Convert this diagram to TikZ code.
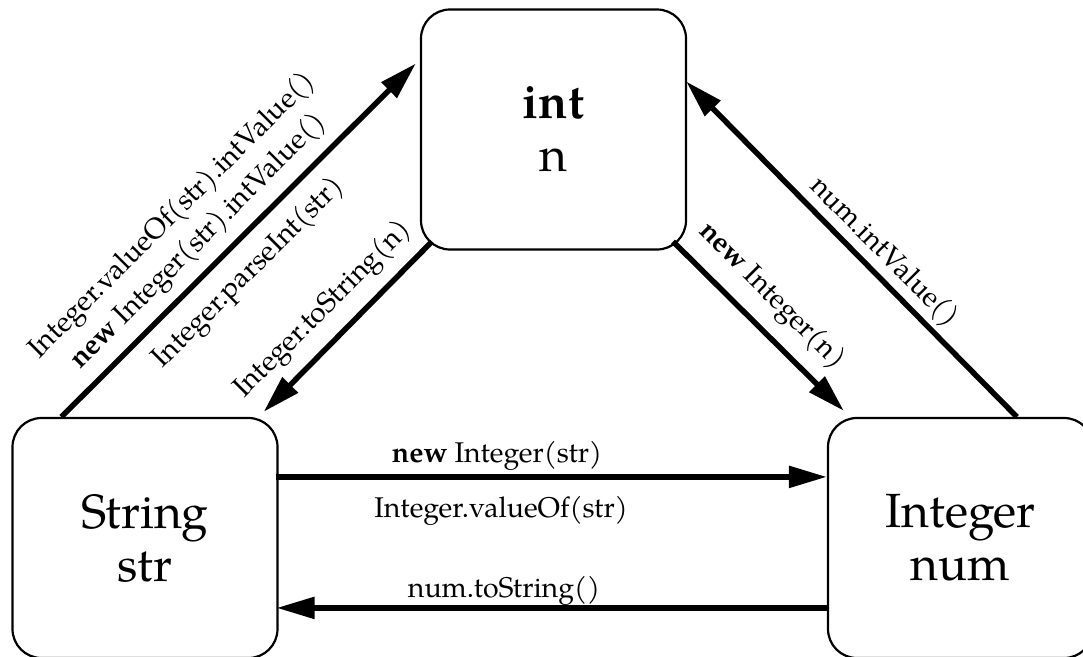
\documentclass[tikz,border=0pt]{standalone}
\usepackage{fontspec}
\setmainfont{TeX Gyre Pagella}
\usetikzlibrary{arrows.meta,calc}
\tikzset{
  box/.style={draw, line width=2.2pt, rounded corners=29pt, minimum width=265pt, minimum height=240pt, align=center, inner sep=0pt, font=\fontsize{48}{53}\selectfont},
  conn/.style={line width=5.5pt, -{Triangle[length=38pt,width=21pt]}},
  lab/.style={font=\fontsize{28.5}{37}\selectfont, inner sep=0pt, align=center},
}
\begin{document}
\begin{tikzpicture}[x=1pt,y=-1pt]
\useasboundingbox (0,0) rectangle (1083,656);
\node[box] (I) at (553.5,129.5) {\textbf{int}\\n};
\node[box] (S) at (145,538) {String\\str};
\node[box] (N) at (960.5,538) {Integer\\num};
% connectors
\draw[conn] ($(S.north west)+(50,0)$) -- ($(I.north west)+(-4,55)$);
\draw[conn] ($(I.south west)+(12,-9)$) -- ($(S.north east)+(-15,-5)$);
\draw[conn] ($(I.south east)+(-14,-9)$) -- ($(N.north west)+(17,-6)$);
\draw[conn] ($(N.north west)+(190,0)$) -- ($(I.north east)+(-1,73)$);
\draw[conn] ($(S.north east)+(-3,60)$) -- ($(N.north west)+(0,60)$);
\draw[conn] ($(N.north west)+(0,191)$) -- ($(S.north east)+(-2,191)$);
% labels
\node[lab, rotate=45] (l1) at (186,229) {Integer.valueOf(str).intValue()\\\textbf{new} Integer(str).intValue()};
\node[lab, rotate=45] (l2) at (249,273.5) {Integer.parseInt(str)};
\node[lab, rotate=45] (l3) at (323.5,310) {Integer.toString(n)};
\node[lab, rotate=-45] (l4) at (771.5,296.5) {\textbf{new} Integer(n)};
\node[lab, rotate=-45] (l5) at (884,252.5) {num.intValue()};
\node[lab, anchor=base] (l6) at (497,462) {\textbf{new} Integer(str)};
\node[lab, anchor=base] (l7) at (501,517) {Integer.valueOf(str)};
\node[lab, anchor=base] (l8) at (504,597) {num.toString()};
\end{tikzpicture}
\end{document}
